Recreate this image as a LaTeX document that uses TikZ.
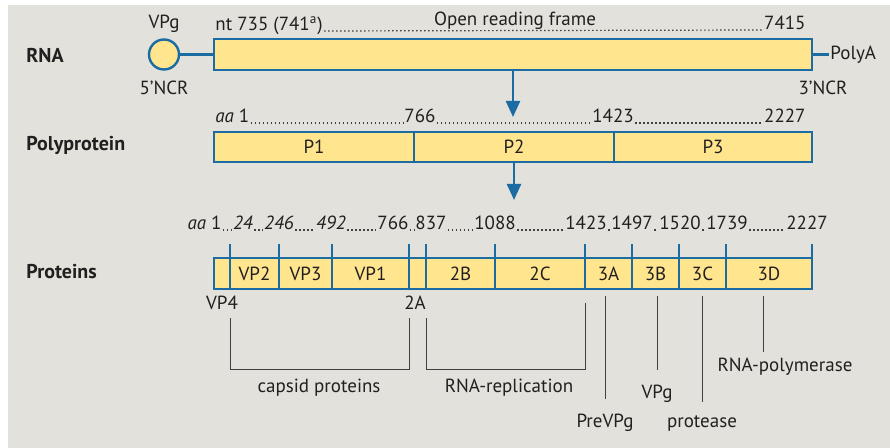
\documentclass[tikz,border=0pt]{standalone}
\usepackage{fontspec}
\setmainfont{PT Sans}
\usetikzlibrary{arrows.meta}
\definecolor{bgray}{HTML}{E2E1DB}
\definecolor{bblue}{HTML}{1A6CA2}
\definecolor{byellow}{HTML}{FFE68E}
\definecolor{btext}{HTML}{231F20}
\tikzset{
  seg/.style={draw=bblue,fill=byellow,line width=1.2pt,minimum height=15.5pt,inner sep=0pt,outer sep=0pt,text=btext},
  lbl/.style={inner sep=0.5pt,text=btext,anchor=base},
  rowname/.style={lbl,anchor=base west,font=\bfseries},
  dots/.style={draw=black!75,line width=0.6pt,dash pattern=on 0.7pt off 1.3pt},
  tick/.style={draw=bblue,line width=1.2pt},
  lead/.style={draw=black!75,line width=0.5pt},
  arr/.style={draw=bblue,line width=1.2pt,-{Triangle[width=7pt,length=8pt]}}
}
\begin{document}
\begin{tikzpicture}[x=0.5pt,y=-0.5pt,font=\fontsize{9.5}{11}\selectfont]
      \fill[white] (0,0) rectangle (890,448);
      \fill[bgray] (8,5) rectangle (890,448);
      \useasboundingbox (0,0) rectangle (890,448);

      % RNA
      \node [rowname] (rna) at (25,63) {RNA};
      \node [seg,minimum width=299pt] (orf) at (513,54.5) {};
      \node [seg,circle,minimum size=15pt] (vpg) at (164,54.5) {};
      \node [lbl] (vpgname) at (164,29) {VPg};
      \node [lbl] (ncr5) at (164,95) {5’NCR};
      \node [lbl] (ncr3) at (823,95) {3’NCR};
      \node [lbl,anchor=base west] (polya) at (829,60) {PolyA};
      \node [lbl,anchor=base west] (nt) at (214,31) {nt 735 (741\textsuperscript{a})};
      \node [lbl,anchor=base east] (ntend) at (807,30) {7415};
      \node [lbl] (orfname) at (515,26) {Open reading frame};
      \draw[tick] (vpg) -- (orf);
      \draw[tick] (orf.east) -- (polya.west |- orf.east);
      \draw[dots] (nt.base east) -- (ntend.base west);

      \coordinate (cut1) at (513,117);
      \draw[arr] (orf) -- (cut1);

      % polyprotein
      \node [rowname] (poly) at (25,151) {Polyprotein};
      \node [seg,minimum width=100pt,minimum height=15pt] (p1) at (314,147) {P1};
      \node [seg,minimum width=100pt,minimum height=15pt] (p2) at (514,147) {P2};
      \node [seg,minimum width=99pt,minimum height=15pt] (p3) at (713,147) {P3};
      \node [lbl,anchor=base west] (pp1) at (214,123) {\textit{aa} 1};
      \node [lbl] (pp766) at (420,123) {766};
      \node [lbl] (pp1423) at (613,123) {1423};
      \node [lbl,anchor=base east] (pp2227) at (807,123) {2227};
      \draw[dots] (pp1.base east) -- (pp766.base west);
      \draw[dots] (pp766.base east) -- (pp1423.base west);
      \draw[dots] (pp1423.base east) -- (pp2227.base west);

      \coordinate (cut2) at (514,200);
      \draw[arr] (p2) -- (cut2);

      % proteins
      \node [rowname] (prot) at (25,279) {Proteins};
      \node [seg,minimum width=8pt] (vpfour) at (222,273.5) {};
      \node [seg,minimum width=24.5pt] (vptwo) at (254.5,273.5) {VP2};
      \node [seg,minimum width=26.5pt] (vpthree) at (305.5,273.5) {VP3};
      \node [seg,minimum width=38.5pt] (vpone) at (370.5,273.5) {VP1};
      \node [seg,minimum width=8.5pt] (twoa) at (417.5,273.5) {};
      \node [seg,minimum width=34.5pt] (twob) at (460.5,273.5) {2B};
      \node [seg,minimum width=45pt] (twoc) at (540,273.5) {2C};
      \node [seg,minimum width=23.5pt] (threea) at (608.5,273.5) {3A};
      \node [seg,minimum width=23.5pt] (threeb) at (655.5,273.5) {3B};
      \node [seg,minimum width=23.5pt] (threec) at (702.5,273.5) {3C};
      \node [seg,minimum width=43pt] (threed) at (769,273.5) {3D};
      \foreach \s in {vpfour,vptwo,vpthree,vpone,twoa,twob,twoc,threea,threeb,threec,threed}
        \draw[tick] (\s.north east) -- ++(0,-14);

      \node [lbl,anchor=base east] (pr1) at (223,230) {\textit{aa} 1};
      \node [lbl] (pr24) at (243,230) {\textit{24}};
      \node [lbl] (pr246) at (279,230) {\textit{246}};
      \node [lbl] (pr492) at (331,230) {\textit{492}};
      \node [lbl] (pr766) at (393,230) {766};
      \node [lbl] (pr837) at (431,230) {837};
      \node [lbl] (pr1088) at (495,230) {1088};
      \node [lbl] (pr1423) at (586,230) {1423};
      \node [lbl] (pr1497) at (632,230) {1497};
      \node [lbl] (pr1520) at (680,230) {1520};
      \node [lbl] (pr1739) at (727,230) {1739};
      \node [lbl] (pr2227) at (807,230) {2227};
      \draw[dots] (pr1.base east) -- (pr24.base west);
      \draw[dots] (pr24.base east) -- (pr246.base west);
      \draw[dots] (pr246.base east) -- (pr492.base west);
      \draw[dots] (pr492.base east) -- (pr766.base west);
      \draw[dots] (pr766.base east) -- (pr837.base west);
      \draw[dots] (pr837.base east) -- (pr1088.base west);
      \draw[dots] (pr1088.base east) -- (pr1423.base west);
      \draw[dots] (pr1423.base east) -- (pr1497.base west);
      \draw[dots] (pr1497.base east) -- (pr1520.base west);
      \draw[dots] (pr1520.base east) -- (pr1739.base west);
      \draw[dots] (pr1739.base east) -- (pr2227.base west);

      % groups and functions
      \node [lbl] (vp4name) at (222,310) {VP4};
      \node [lbl] (twoaname) at (415,310) {2A};
      \node [lbl] (capsid) at (319,393) {capsid proteins};
      \node [lbl] (rnarep) at (509,393) {RNA-replication};
      \node [lbl] (prevpg) at (605,428) {PreVPg};
      \node [lbl] (vpgp) at (657,399) {VPg};
      \node [lbl] (protease) at (702,428) {protease};
      \node [lbl] (polym) at (785,372) {RNA-polymerase};

      \draw[lead] ([yshift=-14.5pt]vpfour.south east) -- ++(0,52) -| ([yshift=-14.5pt]vpone.south east);
      \draw[lead] ([yshift=-14.5pt]twob.south west) -- ++(0,52) -| ([yshift=-7pt]twoc.south east);
      \draw[lead] ([yshift=-3.5pt]prevpg.north |- threea.south) -- ([yshift=7pt]prevpg.north);
      \draw[lead] ([yshift=-3.5pt]vpgp.north |- threeb.south) -- ([yshift=7pt]vpgp.north);
      \draw[lead] ([yshift=-3.5pt]protease.north |- threec.south) -- ([yshift=6.5pt]protease.north);
      \draw[lead] ([xshift=-3pt,yshift=-3.5pt]threed.south) -- ([xshift=-11pt,yshift=2.5pt]polym.north);
    \end{tikzpicture}
\end{document}
